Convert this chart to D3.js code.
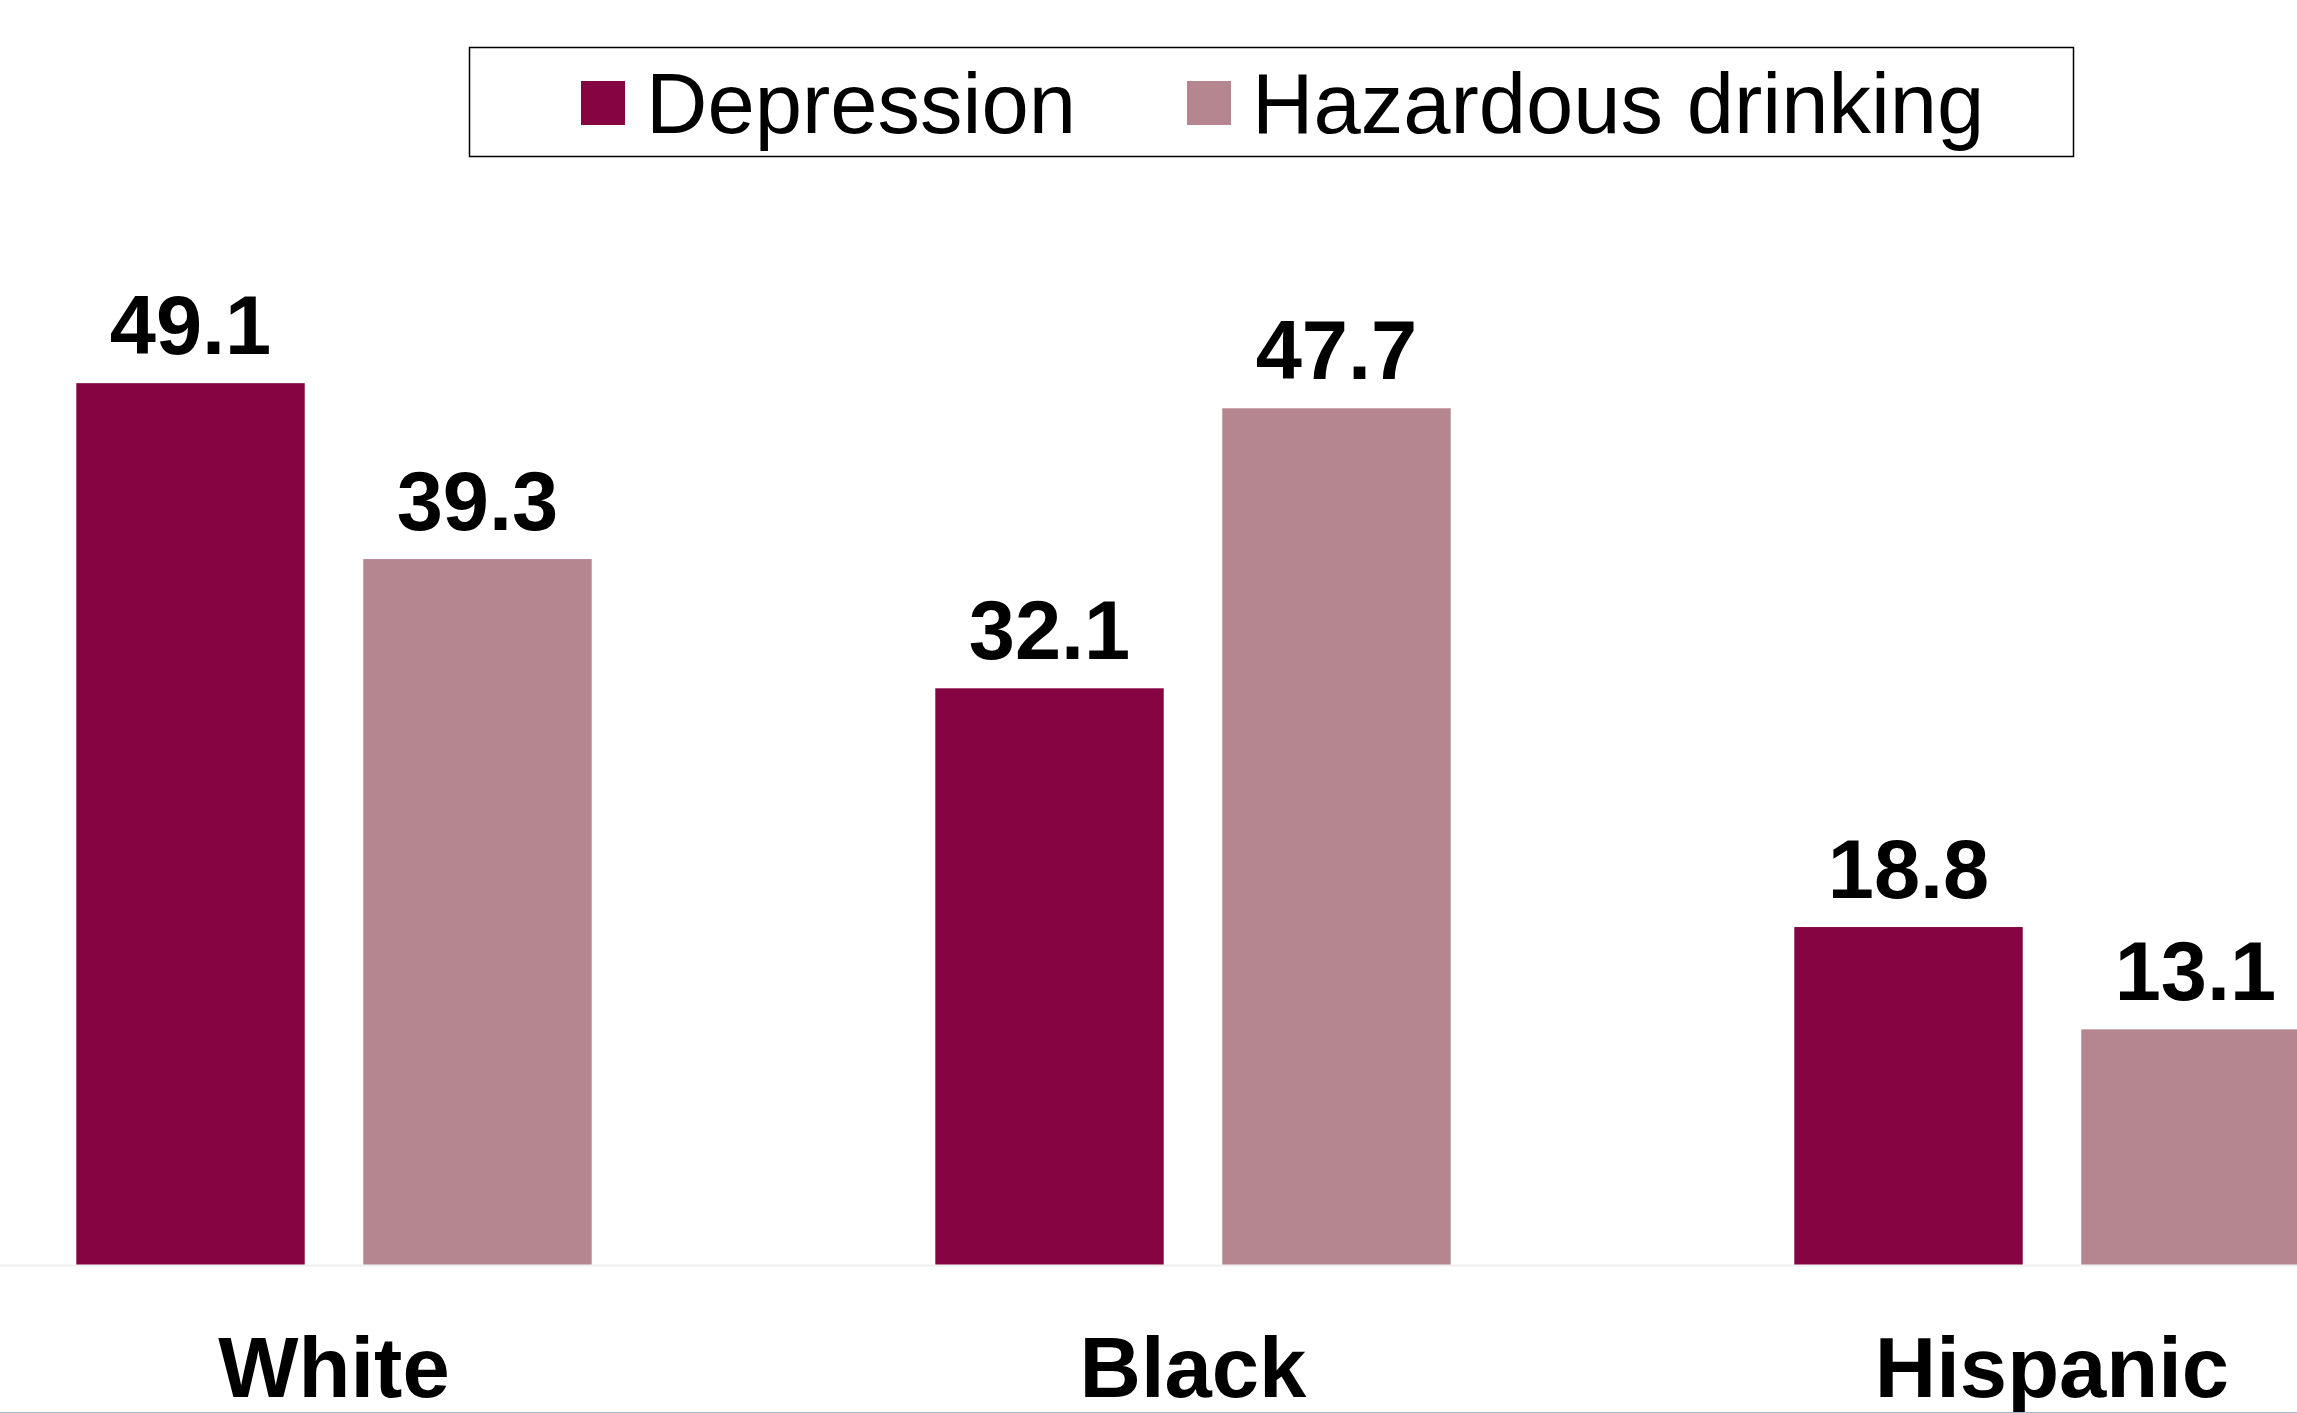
<!DOCTYPE html>
<html>
<head>
<meta charset="utf-8">
<script src="https://cdn.jsdelivr.net/npm/d3@7"></script>
<style>
  body { margin: 0; background: #fff; }
  svg { display: block; font-family: "Liberation Sans", Arial, sans-serif; }
</style>
</head>
<body>
<svg id="chart"></svg>
<script>
const categories = ["White", "Black", "Hispanic"];
const seriesNames = ["Depression", "Hazardous drinking"];
const depression = [49.1, 32.1, 18.8];
const hazardous = [39.3, 47.7, 13.1];
const colors = ["#850441", "#b58590"];

const width = 2297, height = 1413;
const baseY = 1264.5;

const svg = d3.select("#chart").attr("width", width).attr("height", height);

const x0 = d3.scaleBand()
   .domain(categories)
   .range([-95.5, 2481.5])
   .paddingInner(0.4)
   .paddingOuter(0.2);

const x1 = d3.scaleBand()
   .domain(seriesNames)
   .range([0, x0.bandwidth()])
   .paddingInner(0.204);

const y = d3.scaleLinear().domain([0, 60]).range([baseY, baseY - 60 * 17.95]);

const rows = categories.map((c, i) => ({
   cat: c,
   vals: [
      { s: seriesNames[0], v: depression[i] },
      { s: seriesNames[1], v: hazardous[i] }
   ]
}));

// faint baseline
svg.append("line")
   .attr("x1", 0).attr("x2", width)
   .attr("y1", baseY + 1).attr("y2", baseY + 1)
   .attr("stroke", "#f0f0f0")
   .attr("stroke-width", 2);

// ----------------------- bars
const groups = svg.selectAll(".grp")
   .data(rows)
   .join("g")
   .attr("class", "grp")
   .attr("transform", d => `translate(${x0(d.cat)},0)`);

groups.selectAll("rect")
   .data(d => d.vals)
   .join("rect")
   .attr("x", d => x1(d.s))
   .attr("y", d => y(d.v))
   .attr("width", x1.bandwidth())
   .attr("height", d => baseY - y(d.v))
   .attr("fill", (d, i) => colors[i]);

// ----------------------- value labels
groups.selectAll("text.val")
   .data(d => d.vals)
   .join("text")
   .attr("class", "val")
   .attr("x", d => x1(d.s) + x1.bandwidth() / 2)
   .attr("y", d => y(d.v) - 29)
   .attr("text-anchor", "middle")
   .attr("font-size", 83)
   .attr("font-weight", "bold")
   .attr("fill", "#000")
   .text(d => d.v.toFixed(1));

// ----------------------- category labels
svg.selectAll(".cat")
   .data(categories)
   .join("text")
   .attr("class", "cat")
   .attr("x", d => x0(d) + x0.bandwidth() / 2)
   .attr("y", 1397)
   .attr("text-anchor", "middle")
   .attr("font-size", 85)
   .attr("font-weight", "bold")
   .attr("fill", "#000")
   .text(d => d);

// bottom edge line
svg.append("line")
   .attr("x1", 0).attr("x2", width)
   .attr("y1", 1412.5).attr("y2", 1412.5)
   .attr("stroke", "#9cbad6")
   .attr("stroke-width", 1);

// ----------------------- legend
const legend = svg.append("g");
legend.append("rect")
   .attr("x", 469.5).attr("y", 47.5)
   .attr("width", 1604).attr("height", 109)
   .attr("fill", "#fff")
   .attr("stroke", "#000")
   .attr("stroke-width", 1.5);

const legendX = [581, 1187];
seriesNames.forEach((s, i) => {
   legend.append("rect")
      .attr("x", legendX[i]).attr("y", 81)
      .attr("width", 44).attr("height", 44)
      .attr("fill", colors[i]);
   legend.append("text")
      .attr("x", legendX[i] + 65)
      .attr("y", 133)
      .attr("font-size", 85)
      .attr("fill", "#000")
      .text(s);
});
</script>
</body>
</html>
